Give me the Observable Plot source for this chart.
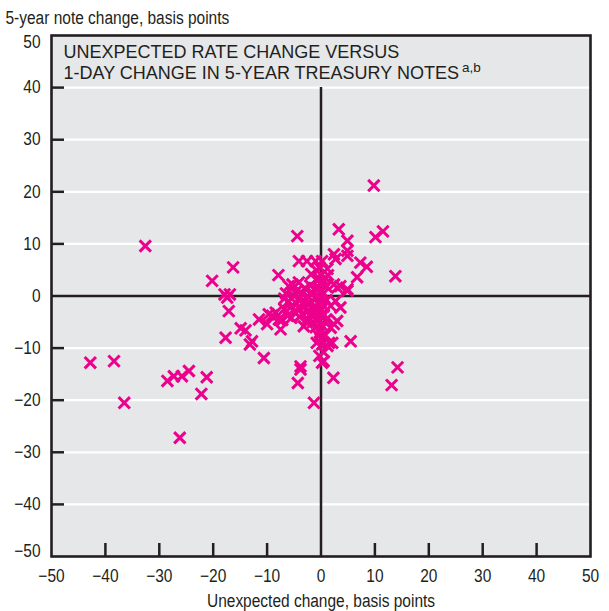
<!DOCTYPE html>
<html>
<head>
<meta charset="utf-8">
<script src="https://cdn.jsdelivr.net/npm/d3@7"></script>
<script src="https://cdn.jsdelivr.net/npm/@observablehq/plot@0.6"></script>
<style>
  html, body { margin: 0; padding: 0; background: #ffffff; }
  #chart svg { display: block; }
</style>
</head>
<body>
<div id="chart"></div>
<script>
// ---- Data ----
const titleLines = ["UNEXPECTED RATE CHANGE VERSUS", "1-DAY CHANGE IN 5-YEAR TREASURY NOTES"];
const titleNote = "a,b";
const yTitle = "5-year note change, basis points";
const xTitle = "Unexpected change, basis points";
const xTicks = [-50, -40, -30, -20, -10, 0, 10, 20, 30, 40, 50];
const yTicks = [-40, -30, -20, -10, 0, 10, 20, 30, 40];
const innerTicksX = [-40, -30, -20, -10, 10, 20, 30, 40];
const gridY = [-40, -30, -20, -10, 10, 20, 30, 40];

// unexpected change (x), 5-year note change (y)
const unexpected = [
  -42.8, -38.4, -36.5, -32.6, -28.5, -27.3, -25.8, -24.5, -21.2, -22.2, -26.2, -20.2, -16.3, -17.9, -16.9, -17.4,
  -17.1, -17.7, -14.9, -14.0, -13.2, -12.8, -10.6, -11.5, -10.0, -9.1, -7.5, -7.2, -7.9, -9.7, -8.4, -7.8,
  -4.4, -3.8, -4.3, -1.3, -2.6, 0.2, 2.3, 3.6, 5.5, 2.1, 2.4, 1.8, 1.2, 14.2, 13.1, 4.9, 3.6, 9.8, 3.3, 10.1,
  11.5, 4.9, 13.8, -4.1, -2.6, -1.0, 0.2, 2.4, 2.7, 4.9, 4.9, 7.3, 8.5, 6.7, 4.9, 3.0, -6.0, 2.4, 0.5, -3.8,
  -0.1, -0.4, 0.2, 1.5, 3.0, -0.7, -0.7, -0.4, -5.3, -4.1, 1.8, 2.7, 0.5, -0.3,
  -6.5, -6.0, -5.5, -5.0, -5.0, -4.5, -4.5, -4.0, -4.0, -4.0, -3.5, -3.5, -3.0, -3.0, -3.0, -2.5, -2.5, -2.5,
  -2.0, -2.0, -2.0, -1.5, -1.5, -1.5, -1.0, -1.0, -1.0, -1.0, -1.0, -0.5, -0.5, -0.5, -0.5, -0.5, 0.0, 0.0,
  0.0, 0.0, 0.0, 0.0, 0.5, 0.5, 0.5, 0.5, 1.0, 1.0, 1.0, 1.3, -6.8, -5.5, -3.2, -0.2, 0.8, -0.8, -0.3, 1.2,
  0.8, -1.8, -6.8, -6.2
];
const noteChange = [
  -12.8, -12.5, -20.5, 9.6, -16.3, -15.4, -15.4, -14.4, -15.6, -18.8, -27.2, 2.9, 5.5, 0.3, 0.3, -0.3,
  -2.9, -8.0, -6.2, -6.6, -9.3, -8.7, -11.9, -4.5, -5.4, -3.8, -6.4, -4.6, 4.0, -3.5, -3.2, -4.5,
  11.5, -14.1, -16.7, -20.5, -5.1, -12.8, -15.7, -2.2, -8.7, -9.0, -5.4, -6.1, -9.6, -13.7, -17.1, 1.0, 1.9, 21.2, 12.8, 11.3,
  12.4, 10.6, 3.8, 6.7, 6.7, 6.7, 6.7, 8.0, 7.1, 8.7, 7.7, 6.4, 5.6, 3.6, 1.3, 1.6, 1.9, 2.2, -12.5, -13.5,
  -6.4, -7.7, -9.3, -9.0, -4.8, 4.8, 2.9, 1.6, 2.2, 2.6, -1.9, -1.0, -10.8, -11.5,
  0.5, -1.0, -2.0, 0.0, -3.0, 1.0, -1.5, -0.5, -2.5, -4.0, 0.5, -3.5, 1.5, -1.0, -2.0, 0.0, -3.0, -4.5,
  2.0, -1.5, -3.5, 0.5, -2.5, -5.0, 1.5, -0.5, -2.0, -3.5, -6.0, 3.5, 0.0, -1.5, -3.0, -4.5, 2.5, 1.0,
  -1.0, -2.5, -4.0, -5.5, 3.0, 0.5, -2.0, -3.5, 1.8, -0.8, -4.5, 4.0, -2.5, -4.2, -5.8, -7.0, -7.5, -9.0, 5.5, 5.2,
  3.5, 4.2, -0.5, -3.8
];

const points = unexpected.map((x, i) => ({x, y: noteChange[i]}));

// ---- Layout / style ----
const W = 609, H = 611;
const mL = 51, mR = 19, mT = 35, mB = 55;
const plotW = W - mL - mR, plotH = H - mT - mB;
const baseFont = "'Liberation Sans', Arial, Helvetica, sans-serif";
const ink = "#231f20";
const magenta = "#ec008c";
const labelSize = 18;

const chart = Plot.plot({
  width: W,
  height: H,
  marginLeft: mL,
  marginRight: mR,
  marginTop: mT,
  marginBottom: mB,
  x: {domain: [-50, 50], axis: null},
  y: {domain: [-50, 50], axis: null},
  style: {fontFamily: baseFont, fontSize: "16px", color: ink, background: "#ffffff"},
  marks: [
    Plot.frame({fill: "#e6e7e8", stroke: null}),
    Plot.ruleY(gridY, {stroke: "#ffffff", strokeWidth: 2.2}),
    // inner ticks
    Plot.tickX(innerTicksX, {x: d => d, stroke: ink, strokeWidth: 2.5, insetTop: plotH - 13}),
    Plot.tickY(gridY, {y: d => d, stroke: ink, strokeWidth: 2.5, insetRight: plotW - 13}),
    // zero lines
    Plot.ruleY([0], {stroke: ink, strokeWidth: 2.5}),
    Plot.ruleX([0], {y1: -50, y2: 40, stroke: ink, strokeWidth: 2.5}),
    // data
    Plot.dot(points, {x: "x", y: "y", symbol: "times", r: 5.2, stroke: magenta, strokeWidth: 3}),
    Plot.frame({stroke: ink, strokeWidth: 2.6}),
    // axes labels
    Plot.axisX(xTicks, {anchor: "bottom", tickSize: 0, tickPadding: 13, fontSize: labelSize, label: null, className: "cond"}),
    Plot.axisY(yTicks, {anchor: "left", tickSize: 0, tickPadding: 11, fontSize: labelSize, label: null, className: "cond"}),
    Plot.axisY([50], {anchor: "left", tickSize: 0, tickPadding: 11, fontSize: labelSize, label: null, dy: 7, className: "cond"}),
    Plot.axisY([-50], {anchor: "left", tickSize: 0, tickPadding: 11, fontSize: labelSize, label: null, dy: -5, className: "cond"}),
    // axis titles
    Plot.text([yTitle], {frameAnchor: "top-left", textAnchor: "start", lineAnchor: "bottom", dx: -46, dy: -12, fontSize: labelSize, fill: ink, className: "cond"}),
    Plot.text([xTitle], {frameAnchor: "bottom", textAnchor: "middle", lineAnchor: "bottom", dy: 50, fontSize: labelSize, fill: ink, className: "cond"}),
    // panel title
    Plot.text([titleLines.join("\n")], {
      frameAnchor: "top-left", textAnchor: "start", lineAnchor: "top",
      dx: 12, dy: 7, fontSize: 18, lineHeight: 1.2, fill: ink, className: "panel-title"
    })
  ]
});

document.getElementById("chart").appendChild(chart);

// condensed look for axis labels and axis titles
chart.querySelectorAll(".cond text").forEach(t => {
  const len = t.getComputedTextLength();
  if (len > 0) {
    t.setAttribute("textLength", (len * 0.86).toFixed(2));
    t.setAttribute("lengthAdjust", "spacingAndGlyphs");
  }
});

// superscript note on the title's last line
const titleText = chart.querySelector(".panel-title text");
if (titleText) {
  const spans = titleText.querySelectorAll("tspan");
  const last = spans[spans.length - 1];
  if (last) {
    const sup = document.createElementNS("http://www.w3.org/2000/svg", "tspan");
    sup.textContent = titleNote;
    sup.setAttribute("font-size", "13.5");
    sup.setAttribute("dy", "-7");
    sup.setAttribute("dx", "3");
    last.appendChild(sup);
  }
}
</script>
</body>
</html>
